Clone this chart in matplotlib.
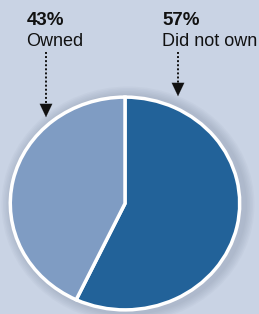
import matplotlib.pyplot as plt
from matplotlib.patches import Ellipse

# ── Data ──────────────────────────────────────────────────────────────────────
labels = ['Did not own', 'Owned']
shares = [57, 43]
colors = ['#226299', '#7f9cc3']

W, H = 259, 314
fig = plt.figure(figsize=(W / 100, H / 100), dpi=100)
fig.patch.set_facecolor('#c9d3e4')

# overlay axes in pixel coords (y down) for labels / arrows
ov = fig.add_axes([0, 0, 1, 1])
ov.set_xlim(0, W)
ov.set_ylim(H, 0)
ov.axis('off')

# ── Pie ───────────────────────────────────────────────────────────────────────
cx, cy, rx, ry = 125, 203.5, 117, 108.5
# soft shadow behind the pie
for i in range(6):
    ov.add_patch(Ellipse((cx + 3, cy + 1), 2 * rx + 4 + 3 * i, 2 * ry + 4 + 3 * i,
                         color='#7a879c', alpha=0.06, lw=0, zorder=0, clip_on=False))
ax = fig.add_axes([(cx - rx) / W, (H - cy - ry) / H, 2 * rx / W, 2 * ry / H])
ax.pie(shares, colors=colors, startangle=90, counterclock=False,
       wedgeprops=dict(edgecolor='white', linewidth=2.5))
ax.set_aspect('auto')
ax.set_xlim(-1.02, 1.02)
ax.set_ylim(-1.02, 1.02)
ax.axis('off')

# ── Labels ────────────────────────────────────────────────────────────────────
fam = ['Liberation Sans', 'DejaVu Sans']
text_x = [162, 27]
arrow_x = [178, 46]
arrow_end = [99, 120]
for lab, s, tx, axx, ae in zip(labels, shares, text_x, arrow_x, arrow_end):
    ov.text(tx, 25, f'{s}%', fontsize=13.5, fontweight='bold', family=fam,
            color='#111111', va='baseline', ha='left')
    ov.text(tx - 0.5, 46, lab, fontsize=13, family=fam, color='#111111',
            va='baseline', ha='left')
    ov.plot([axx, axx], [52, ae - 11], color='#111111', lw=1.4, ls=(0, (1, 1.1)))
    ov.annotate('', xy=(axx, ae), xytext=(axx, ae - 13),
                arrowprops=dict(arrowstyle='-|>,head_length=0.95,head_width=0.45',
                                color='#111111', lw=0.1))

plt.savefig('out.png', dpi=100, facecolor=fig.get_facecolor())
